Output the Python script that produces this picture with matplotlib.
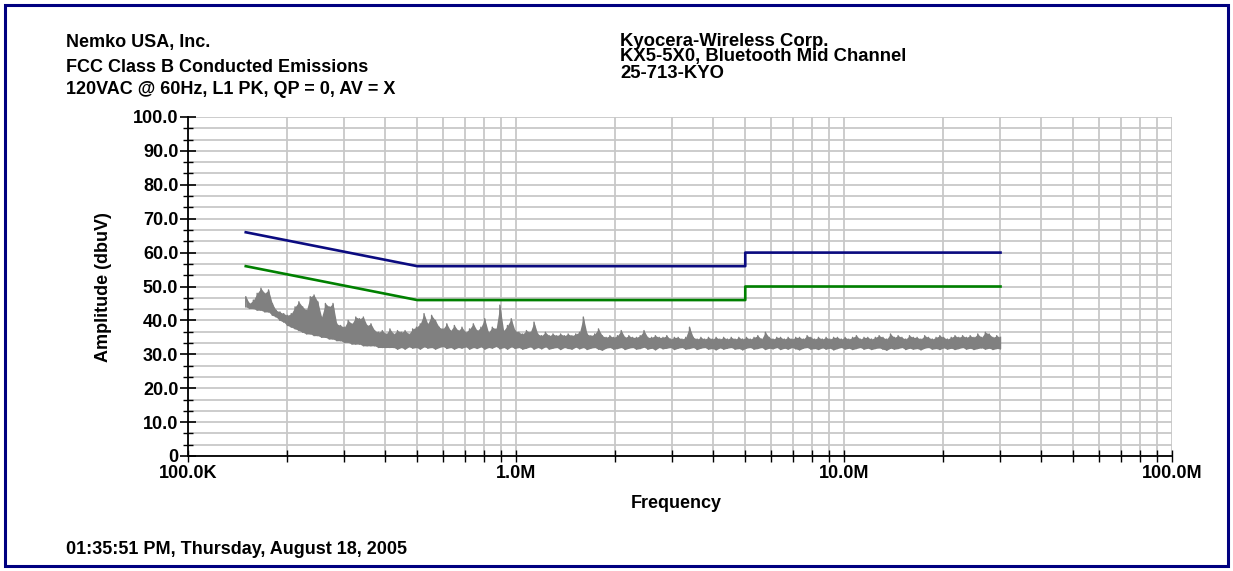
import numpy as np
import matplotlib
matplotlib.use("Agg")
import matplotlib.pyplot as plt
from matplotlib.ticker import LogLocator, MultipleLocator, NullFormatter, FixedLocator
from matplotlib.patches import Rectangle

# ---------------- data ----------------
x_ticks = [1e5, 1e6, 1e7, 1e8]
x_tick_labels = ["100.0K", "1.0M", "10.0M", "100.0M"]
y_ticks = [0, 10, 20, 30, 40, 50, 60, 70, 80, 90, 100]
y_tick_labels = ["0", "10.0", "20.0", "30.0", "40.0", "50.0", "60.0", "70.0", "80.0", "90.0", "100.0"]

# limit lines (FCC Class B)
limit_freq = [0.15e6, 0.5e6, 5e6, 5e6, 30e6]
qp_limit = [66, 56, 56, 60, 60]
av_limit = [56, 46, 46, 50, 50]

# measured peak trace: sweep 150 kHz .. 30 MHz, per-sample max / min (dBuV)
sweep_start = 0.15e6
sweep_stop = 30e6
trace_hi = [
    47, 45, 46, 48, 49.5, 48, 49, 45, 43, 42.5,
    42, 41.5, 42, 44, 45.5, 44, 43, 47, 47.5, 45.5,
    41, 45, 44, 45, 39, 38.5, 38, 40, 39, 41,
    40.5, 41, 38.5, 39, 37, 36.5, 37, 36, 37.5, 36,
    37, 36.5, 37, 36, 37.5, 38, 39, 42, 39, 41.5,
    40, 38, 37.5, 39, 37, 38.5, 37, 38, 36.5, 37.5,
    39, 37, 38, 40.5, 36.5, 38, 37.5, 44.5, 37, 38.5,
    40.5, 37, 36.5, 36, 37, 36.5, 39.5, 36, 35.5, 36.5,
    35.5, 36, 35.5, 36, 35.5, 36, 35.5, 36, 36.5, 41,
    36, 35.5, 36, 37.5, 35.5, 35, 35.5, 35, 35.5, 37,
    35, 35.5, 35, 35, 35.5, 37, 35, 35, 35.5, 35,
    35, 35.5, 34.5, 35, 35, 34.5, 35, 38, 35, 34.5,
    35, 34.5, 35, 34.5, 35, 34.5, 35, 34.5, 35, 34.5,
    35, 34.5, 35, 34.5, 35, 35.5, 34.5, 36.5, 35, 34.5,
    35, 35, 34.5, 35, 34.5, 35, 35, 34.5, 35.5, 35,
    34.5, 35, 34.5, 35, 34.5, 35, 35, 34.5, 35, 34.5,
    35, 35.5, 34.5, 35, 35, 34.5, 35, 35.5, 35, 34.5,
    36, 35, 35.5, 35, 34.5, 35.5, 35, 35, 34.5, 35.5,
    35, 34.5, 35, 35.5, 35, 34.5, 35, 35.5, 35, 35.5,
    35, 35.5, 35, 36, 35, 36.5, 36, 35, 35.5, 35,
]
trace_lo = [
    44, 43.5, 43.5, 43, 43, 42.5, 42.5, 41.5, 41, 40,
    39.5, 38.5, 38, 37.5, 37, 36.5, 36, 36, 35.5, 35.5,
    35, 35, 34.5, 34.5, 34, 34, 33.5, 33.5, 33, 33,
    33, 32.5, 32.5, 32.5, 32.5, 32, 32, 32, 32, 32,
    31.5, 32, 31.5, 32.2, 31.8, 32, 31.5, 32.2, 31.8, 32,
    31.5, 32, 32.3, 31.7, 32, 31.5, 32, 31.8, 32.2, 31.5,
    32, 31.7, 32.2, 31.5, 32, 31.8, 32.3, 31.6, 32, 31.5,
    32.2, 31.7, 32, 31.5, 31.8, 32.2, 31.5, 32, 31.6, 32.2,
    31.5, 31.8, 32, 31.4, 32, 31.7, 31.5, 32.1, 31.6, 32,
    31.4, 31.8, 32, 31.5, 31.2, 31.8, 32, 31.5, 31.7, 32,
    31.4, 31.8, 32, 31.5, 31.7, 32.1, 31.5, 31.8, 31.3, 32,
    31.6, 31.8, 32, 31.4, 31.8, 32, 31.5, 31.7, 32, 31.4,
    31.8, 32, 31.5, 31.7, 31.3, 31.9, 31.5, 31.8, 32, 31.5,
    31.7, 31.3, 31.8, 32, 31.5, 31.7, 32, 31.4, 31.8, 31.6,
    32, 31.4, 31.8, 31.5, 32, 31.6, 31.3, 31.8, 32, 31.5,
    31.7, 31.4, 31.9, 31.5, 31.8, 31.3, 31.7, 32, 31.5, 31.8,
    31.4, 31.7, 32, 31.5, 31.8, 31.4, 31.7, 31.9, 31.5, 31.2,
    31.8, 31.5, 31.7, 32, 31.4, 31.8, 31.5, 31.7, 31.3, 31.8,
    32, 31.5, 31.7, 31.4, 31.9, 31.5, 31.8, 31.4, 31.7, 32,
    31.5, 31.8, 31.4, 31.7, 31.9, 31.5, 31.8, 31.4, 31.7, 31.6,
]

# ---------------- figure ----------------
W, H = 1233, 571
FONT = "Liberation Sans"
FS = 13

fig = plt.figure(figsize=(W / 100, H / 100), dpi=100)
fig.patch.set_facecolor("white")

ax_l, ax_r, ax_t, ax_b = 188, 1172, 117, 456
ax = fig.add_axes([ax_l / W, (H - ax_b) / H, (ax_r - ax_l) / W, (ax_b - ax_t) / H])
ax.set_xscale("log")
ax.set_xlim(1e5, 1e8)
ax.set_ylim(0, 100)

# trace drawn as a dense max/min band
n = len(trace_hi)
freqs = np.geomspace(sweep_start, sweep_stop, n)
ax.fill_between(freqs, trace_lo, trace_hi, color="#808080", lw=0, zorder=3)
zx = np.repeat(freqs, 2)
zy = np.empty(2 * n)
zy[0::2] = trace_lo
zy[1::2] = trace_hi
ax.plot(zx, zy, color="#808080", lw=1.0, zorder=3)

ax.plot(limit_freq, qp_limit, color="#0b0b80", lw=1.9, zorder=4)
ax.plot(limit_freq, av_limit, color="#008000", lw=1.9, zorder=4)

# ticks & grid
ax.xaxis.set_major_locator(FixedLocator(x_ticks))
ax.set_xticklabels(x_tick_labels)
ax.xaxis.set_minor_locator(LogLocator(base=10, subs=[2, 3, 4, 5, 6, 7, 8, 9], numticks=20))
ax.xaxis.set_minor_formatter(NullFormatter())
ax.set_yticks(y_ticks)
ax.set_yticklabels(y_tick_labels)
ax.yaxis.set_minor_locator(MultipleLocator(10 / 3))

ax.grid(True, which="both", color="#c8c8c8", lw=1.3, zorder=0)
ax.set_axisbelow(True)
for s in ["top", "right"]:
    ax.spines[s].set_visible(False)
for s in ["left", "bottom"]:
    ax.spines[s].set_linewidth(1.3)
    ax.spines[s].set_color("black")
    ax.spines[s].set_zorder(5)

ax.tick_params(axis="y", which="major", direction="inout", length=12, width=1.2, pad=1)
ax.tick_params(axis="y", which="minor", direction="inout", length=7, width=1.0)
ax.tick_params(axis="x", which="both", direction="inout", length=8, width=1.0, pad=2.5)
for lab in ax.get_xticklabels() + ax.get_yticklabels():
    lab.set_fontfamily(FONT)
    lab.set_fontweight("bold")
    lab.set_fontsize(FS)


def T(x, y, s, **kw):
    kw.setdefault("ha", "left")
    kw.setdefault("va", "center")
    fig.text(x / W, 1 - y / H, s, family=FONT, weight="bold", fontsize=kw.pop("fs", FS), **kw)


T(66, 42, "Nemko USA, Inc.")
T(66, 68, "FCC Class B Conducted Emissions")
T(66, 90, "120VAC @ 60Hz, L1 PK, QP = 0, AV = X")
T(620, 41, "Kyocera-Wireless Corp.", fs=13.3)
T(620, 57, "KX5-5X0, Bluetooth Mid Channel", fs=13.3)
T(620, 73, "25-713-KYO", fs=13.3)
T(104, 287, "Amplitude (dbuV)", rotation=90, ha="center")
T(676, 503, "Frequency", ha="center")
T(66, 549, "01:35:51 PM, Thursday, August 18, 2005")

fig.patches.append(Rectangle((5 / W, 5 / H), 1223 / W, 561 / H, transform=fig.transFigure,
                             fill=False, ec="#000080", lw=2.2, zorder=10))

fig.savefig("out.png", dpi=100, facecolor="white")
